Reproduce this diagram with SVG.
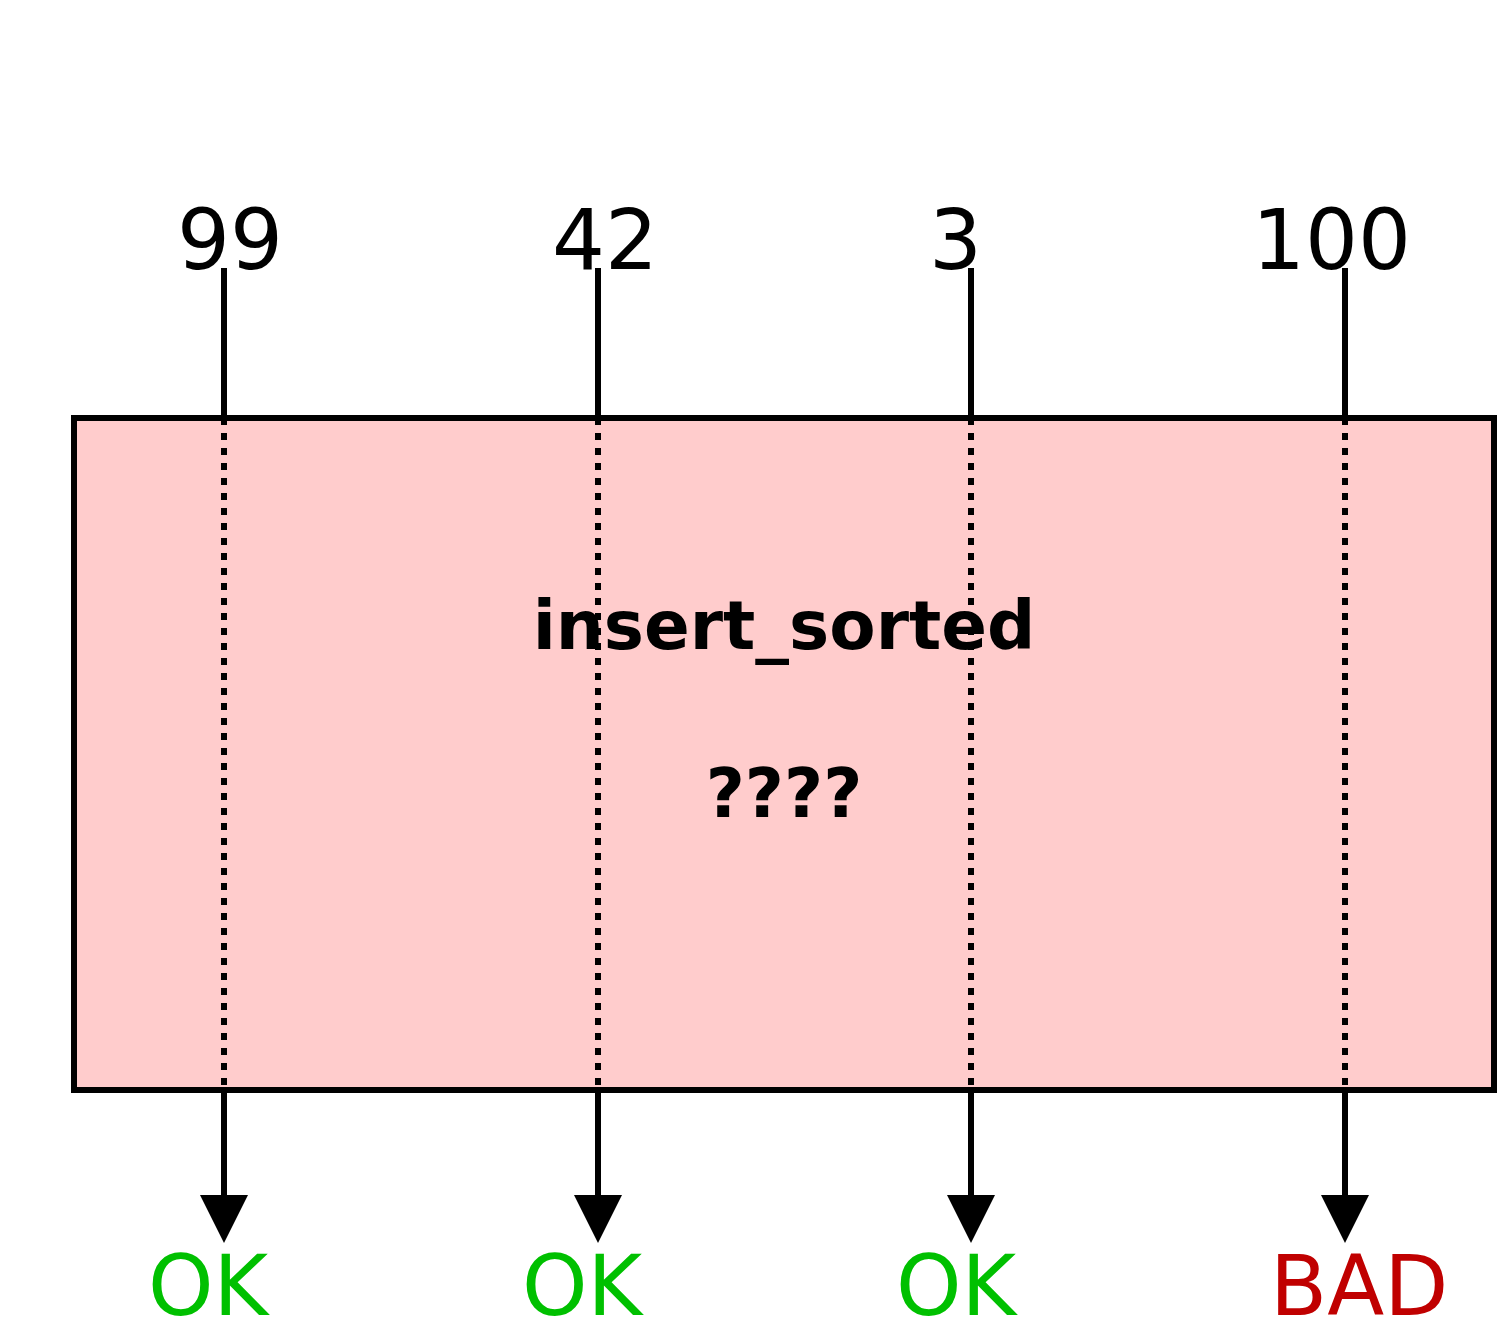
<svg xmlns="http://www.w3.org/2000/svg" width="1500" height="1335" viewBox="0 0 1500 1335">
  <style>
    .num { font-family: "DejaVu Sans", sans-serif; font-size: 83.3px; fill: #000000; }
    .ok { font-family: "DejaVu Sans", sans-serif; font-size: 83.3px; fill: #00C000; }
    .bad { font-family: "DejaVu Sans", sans-serif; font-size: 83.3px; fill: #C00000; }
    .title { font-family: "DejaVu Sans", sans-serif; font-size: 67.5px; font-weight: bold; fill: #000000; }
    .wire { stroke: #000000; stroke-width: 6; fill: none; }
    .dot { stroke: #000000; stroke-width: 6; fill: none; stroke-dasharray: 7 8; }
    .head { fill: #000000; stroke: none; }
  </style>
  <rect width="1500" height="1335" fill="#ffffff"/>
  <g id="inputs">
    <text class="num" x="177" y="269">99</text>
    <text class="num" x="552" y="269">42</text>
    <text class="num" x="929" y="269">3</text>
    <text class="num" x="1252" y="269">100</text>
  </g>
  <g id="insert_sorted">
    <rect x="74" y="418" width="1420" height="672" fill="#FFCCCC" stroke="#000000" stroke-width="6"/>
  </g>
  <g id="connectors">
    <line class="wire" x1="224" y1="268" x2="224" y2="418"/>
    <line class="wire" x1="598" y1="268" x2="598" y2="418"/>
    <line class="wire" x1="971" y1="268" x2="971" y2="418"/>
    <line class="wire" x1="1345" y1="268" x2="1345" y2="418"/>
    <line class="dot" x1="224" y1="418" x2="224" y2="1090"/>
    <line class="dot" x1="598" y1="418" x2="598" y2="1090"/>
    <line class="dot" x1="971" y1="418" x2="971" y2="1090"/>
    <line class="dot" x1="1345" y1="418" x2="1345" y2="1090"/>
    <line class="wire" x1="224" y1="1090" x2="224" y2="1197"/>
    <line class="wire" x1="598" y1="1090" x2="598" y2="1197"/>
    <line class="wire" x1="971" y1="1090" x2="971" y2="1197"/>
    <line class="wire" x1="1345" y1="1090" x2="1345" y2="1197"/>
    <polygon class="head" points="200,1195 248,1195 224,1243"/>
    <polygon class="head" points="574,1195 622,1195 598,1243"/>
    <polygon class="head" points="947,1195 995,1195 971,1243"/>
    <polygon class="head" points="1321,1195 1369,1195 1345,1243"/>
  </g>
  <g id="label">
    <text class="title" x="784" y="649" text-anchor="middle">insert_sorted</text>
    <text class="title" x="784" y="817" text-anchor="middle">????</text>
  </g>
  <g id="outputs">
    <text class="ok" x="148" y="1315">OK</text>
    <text class="ok" x="522" y="1315">OK</text>
    <text class="ok" x="896" y="1315">OK</text>
    <text class="bad" x="1270" y="1315">BAD</text>
  </g>
</svg>
